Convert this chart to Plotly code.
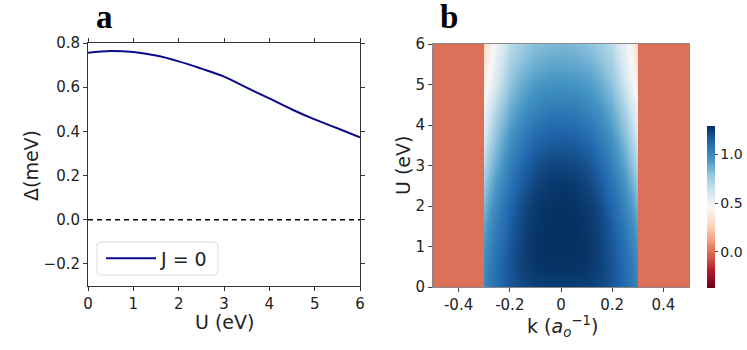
import plotly.graph_objects as go

# ---------------- data ----------------
U_line = [0, 0.5, 1, 1.5, 2, 2.5, 3, 3.5, 4, 4.5, 5, 5.5, 6]
gap_J0 = [0.756, 0.764, 0.759, 0.743, 0.717, 0.684, 0.648, 0.598, 0.549, 0.499, 0.454, 0.414, 0.373]

# heatmap (right panel): half grid k >= 0, mirrored (symmetric in k)
k_half = [0.0, 0.05, 0.1, 0.15, 0.2, 0.25, 0.28, 0.2995]
U_grid = [0, 0.5, 1, 1.5, 2, 2.5, 3, 3.5, 4, 4.5, 5, 5.5, 6]
Z_half = [
    [1.25, 1.25, 1.24, 1.22, 1.17, 1.10, 1.05, 1.00],
    [1.28, 1.28, 1.27, 1.24, 1.18, 1.10, 1.04, 0.98],
    [1.29, 1.29, 1.28, 1.24, 1.17, 1.08, 1.01, 0.95],
    [1.29, 1.29, 1.27, 1.23, 1.15, 1.05, 0.97, 0.90],
    [1.29, 1.28, 1.26, 1.21, 1.12, 1.01, 0.92, 0.84],
    [1.27, 1.26, 1.23, 1.17, 1.08, 0.96, 0.86, 0.77],
    [1.23, 1.22, 1.19, 1.13, 1.03, 0.90, 0.79, 0.70],
    [1.17, 1.16, 1.13, 1.07, 0.98, 0.84, 0.72, 0.62],
    [1.11, 1.10, 1.07, 1.01, 0.92, 0.78, 0.65, 0.54],
    [1.04, 1.03, 1.00, 0.95, 0.86, 0.71, 0.58, 0.47],
    [0.97, 0.96, 0.94, 0.89, 0.80, 0.62, 0.48, 0.40],
    [0.90, 0.89, 0.87, 0.82, 0.74, 0.57, 0.43, 0.34],
    [0.84, 0.83, 0.81, 0.76, 0.68, 0.52, 0.39, 0.28],
]
outside_value = 0.0
k_outer = [0.3005, 0.5]
zmin, zmax = -0.37, 1.29

left_xticks = [0, 1, 2, 3, 4, 5, 6]
left_yticks = [-0.2, 0.0, 0.2, 0.4, 0.6, 0.8]
left_yticktext = ["\u22120.2", "0.0", "0.2", "0.4", "0.6", "0.8"]
right_xticks = [-0.4, -0.2, 0, 0.2, 0.4]
right_xticktext = ["-0.4", "-0.2", "0", "0.2", "0.4"]
right_yticks = [0, 1, 2, 3, 4, 5, 6]
cbar_ticks = [0.0, 0.5, 1.0]
cbar_ticktext = ["0.0", "0.5", "1.0"]

RdBu = ['rgb(103,0,31)', 'rgb(178,24,43)', 'rgb(214,96,77)', 'rgb(244,165,130)',
        'rgb(253,219,199)', 'rgb(247,247,247)', 'rgb(209,229,240)', 'rgb(146,197,222)',
        'rgb(67,147,195)', 'rgb(33,102,172)', 'rgb(5,48,97)']
colorscale = [[i / (len(RdBu) - 1), c] for i, c in enumerate(RdBu)]

# build full grid
k_full = ([-k for k in reversed(k_outer)] + [-k for k in reversed(k_half[1:])]
          + k_half + k_outer)
Z_full = []
for row in Z_half:
    Z_full.append([outside_value] * len(k_outer) + list(reversed(row[1:])) + row
                  + [outside_value] * len(k_outer))

FONT = "DejaVu Sans"
W, H = 747, 350

def px(x):
    return x / W

def py(y):
    return 1 - y / H

fig = go.Figure()

fig.add_trace(go.Scatter(
    x=U_line, y=gap_J0, mode="lines", name="J = 0",
    line=dict(color="#0a0a8c", width=2, shape="spline"),
    xaxis="x", yaxis="y"))
fig.add_trace(go.Scatter(
    x=[0, 6], y=[0, 0], mode="lines", showlegend=False,
    line=dict(color="black", width=1.3, dash="5px,4px"),
    xaxis="x", yaxis="y"))

fig.add_trace(go.Heatmap(
    x=k_full, y=U_grid, z=Z_full, zsmooth="best",
    colorscale=colorscale, zmin=zmin, zmax=zmax,
    xaxis="x2", yaxis="y2", showscale=True,
    colorbar=dict(
        x=px(707), xanchor="left", y=py(288), yanchor="bottom",
        len=(288 - 126) / H, lenmode="fraction", thickness=8, xpad=0, ypad=0,
        outlinewidth=0, tickvals=cbar_ticks, ticktext=cbar_ticktext,
        ticks="outside", ticklen=3, tickcolor="#444",
        tickfont=dict(family=FONT, size=14, color="#222"))))

axis_common = dict(showgrid=False, zeroline=False, ticks="outside", ticklen=4,
                   automargin=False,
                   tickfont=dict(family=FONT, size=15, color="#222"))

# rounded legend frame (paper coords, in px from top-left)
lx0, lx1, ly0, ly1, r = 97, 218, 242, 275, 4
path = (f"M {px(lx0 + r)},{py(ly0)} L {px(lx1 - r)},{py(ly0)} "
        f"Q {px(lx1)},{py(ly0)} {px(lx1)},{py(ly0 + r)} L {px(lx1)},{py(ly1 - r)} "
        f"Q {px(lx1)},{py(ly1)} {px(lx1 - r)},{py(ly1)} L {px(lx0 + r)},{py(ly1)} "
        f"Q {px(lx0)},{py(ly1)} {px(lx0)},{py(ly1 - r)} L {px(lx0)},{py(ly0 + r)} "
        f"Q {px(lx0)},{py(ly0)} {px(lx0 + r)},{py(ly0)} Z")

fig.update_layout(
    width=W, height=H, margin=dict(l=0, r=0, t=0, b=0, pad=0, autoexpand=False),
    paper_bgcolor="white", plot_bgcolor="white",
    showlegend=True,
    legend=dict(x=px(101), y=py(258.5), xanchor="left", yanchor="middle",
                bgcolor="rgba(0,0,0,0)", borderwidth=0, itemwidth=50,
                font=dict(family=FONT, size=19, color="#222")),
    shapes=[dict(type="path", path=path, xref="paper", yref="paper", layer="above",
                 fillcolor="rgba(255,255,255,0.85)", line=dict(color="#dcdcdc", width=1))],
    xaxis=dict(domain=[px(88), px(360)], range=[0, 6], tickvals=left_xticks,
               showline=True, linecolor="#333", linewidth=1, mirror="ticks",
               tickcolor="#333", anchor="y", **axis_common),
    yaxis=dict(domain=[py(286), py(43)], range=[-0.3, 0.8], tickvals=left_yticks,
               ticktext=left_yticktext,
               showline=True, linecolor="#333", linewidth=1, mirror="ticks",
               tickcolor="#333", anchor="x", **axis_common),
    xaxis2=dict(domain=[px(433), px(689)], range=[-0.5, 0.5], tickvals=right_xticks,
                ticktext=right_xticktext,
                showline=True, linecolor="#888", linewidth=1, mirror=True,
                tickcolor="#444", anchor="y2", **axis_common),
    yaxis2=dict(domain=[py(287), py(44)], range=[0, 6], tickvals=right_yticks,
                showline=True, linecolor="#888", linewidth=1, mirror=True,
                tickcolor="#444", anchor="x2", **axis_common),
)

ann = [
    dict(text="<b>a</b>", x=px(104), y=py(17), font=dict(family="Liberation Serif", size=33, color="black")),
    dict(text="<b>b</b>", x=px(449), y=py(17), font=dict(family="Liberation Serif", size=33, color="black")),
    dict(text="U (eV)", x=px(224), y=py(322), font=dict(family=FONT, size=19, color="#222")),
    dict(text="\u0394(meV)", x=px(31), y=py(166), textangle=-90, font=dict(family=FONT, size=19, color="#222")),
    dict(text="U (eV)", x=px(403), y=py(166), textangle=-90, font=dict(family=FONT, size=19, color="#222")),
    dict(text="k (<i>a</i><sub><i>o</i></sub><sup>\u22121</sup>)", x=px(562), y=py(326),
         font=dict(family=FONT, size=19, color="#222")),
]
for a in ann:
    a.update(xref="paper", yref="paper", showarrow=False, xanchor="center", yanchor="middle")
fig.update_layout(annotations=ann)

fig.write_html("out.html", config={"displayModeBar": False},
               post_script="document.body.style.margin='0';document.body.style.overflow='hidden';")
